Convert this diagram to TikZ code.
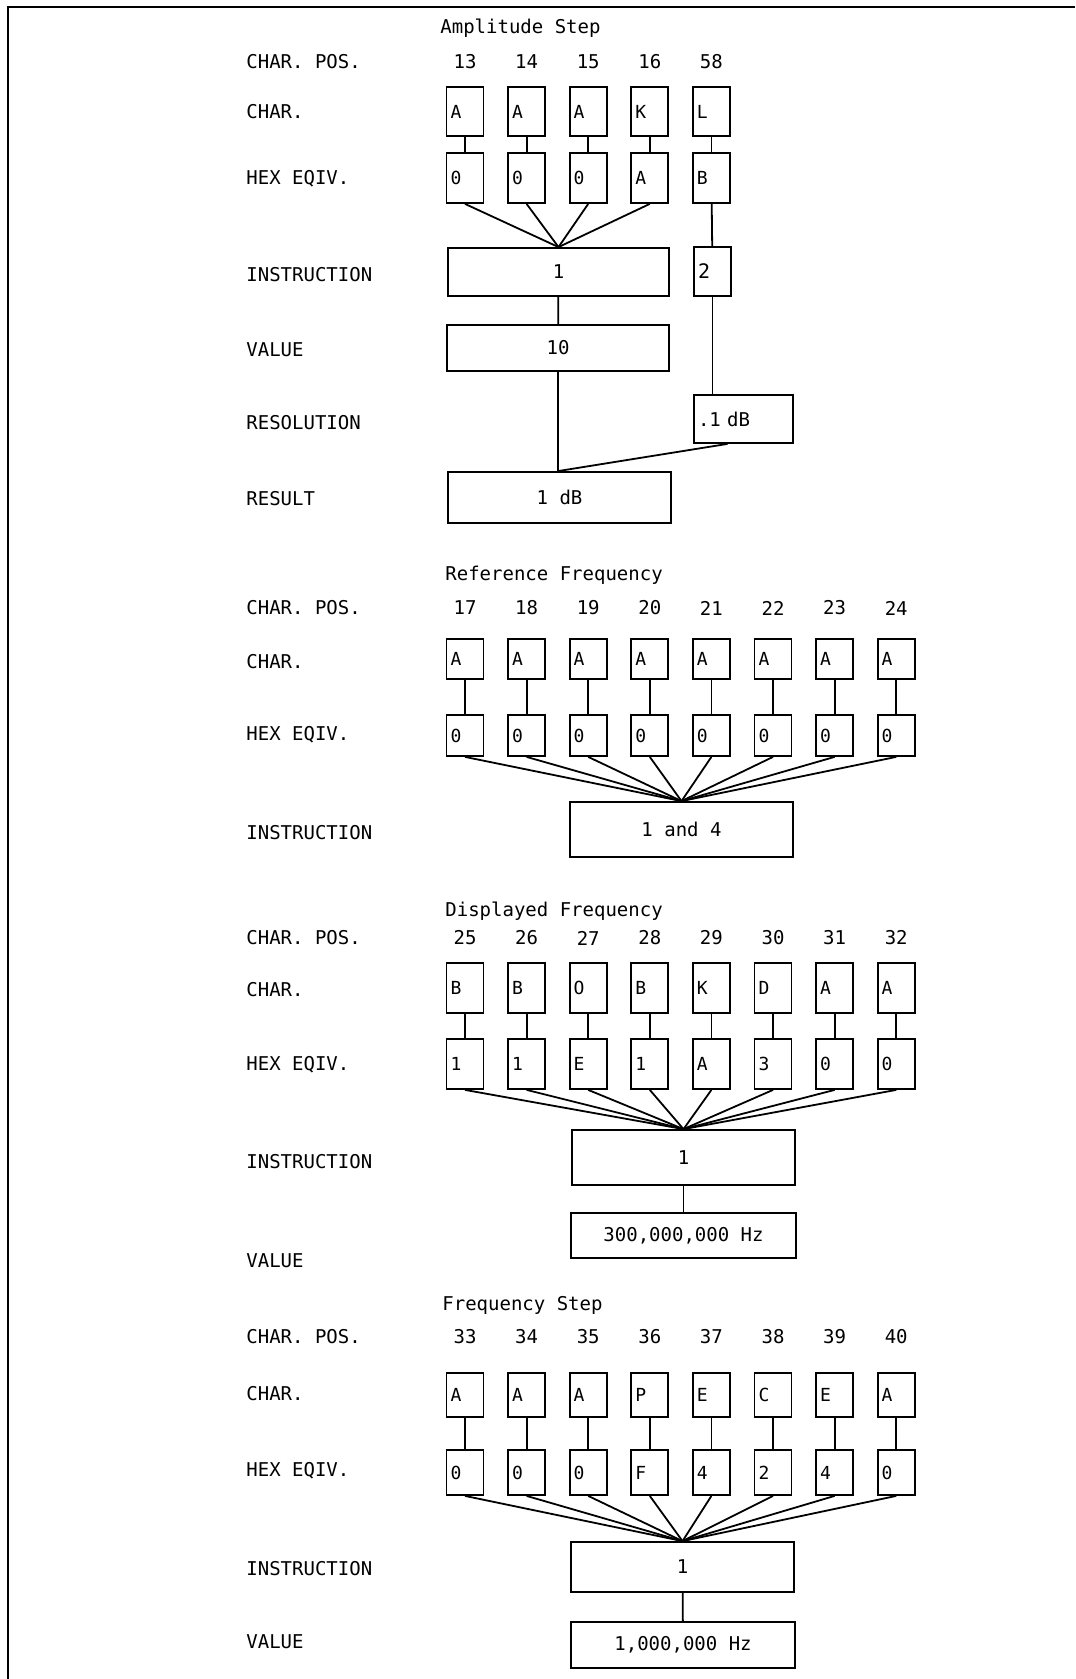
\documentclass[tikz,border=0pt]{standalone}
\usepackage{fontspec}
\setmainfont{DejaVu Sans Mono}
\tikzset{
  frame/.style={line width=1pt},
  lbl/.style={anchor=west, inner sep=0pt, font=\fontsize{9.5}{11}\selectfont},
  ttl/.style={anchor=west, inner sep=0pt, font=\fontsize{9.5}{11}\selectfont},
  num/.style={inner sep=0pt, font=\fontsize{9.5}{11}\selectfont},
  chr/.style={draw, line width=0.9pt, inner sep=2pt, text width=14.5pt, align=left,
              font=\fontsize{9}{10}\selectfont},
  wide/.style={draw, line width=0.9pt, inner sep=2pt, minimum width=111.5pt,
              align=center, font=\fontsize{9.5}{11}\selectfont},
  link/.style={line width=0.9pt},
}

\begin{document}
\begin{tikzpicture}[x=0.5pt,y=-0.5pt]
  \useasboundingbox (0,0) rectangle (1075,1679);
  \draw[frame] (8,1679) -- (8,7) -- (1075,7);
  % Amplitude Step
  \node[ttl] (ta) at (440,28) {Amplitude Step};
  \foreach \y/\txt [count=\n] in {62/CHAR. POS.,112/CHAR.,179/HEX EQIV.,275/INSTRUCTION,
                                  350/VALUE,423/RESOLUTION,499/RESULT}
    \node[lbl] (la\n) at (246,\y) {\txt};
  \foreach \p/\c/\h [count=\n] in {13/A/0,14/A/0,15/A/0,16/K/A,58/L/B}{
    \node[num] (pa\n) at ({465+61.6*(\n-1)},62) {\p};
    \node[chr,minimum height=24.5pt] (ca\n) at ({465+61.6*(\n-1)},111.5) {\c};
    \node[chr,minimum height=25pt] (ha\n) at ({465+61.6*(\n-1)},178) {\h};
    \draw[link] (ca\n) -- (ha\n);
  }
  \node[wide,minimum width=110.5pt,minimum height=24pt] (ia) at (558.5,272) {1};
  \foreach \n in {1,...,4}
    \draw[link] (ha\n.south) -- (ia.north);
  \node[chr,minimum height=24.5pt,font=\fontsize{10}{11}\selectfont] (ib) at (712.5,271.5) {2};
  \draw[link] (ha5) -- (ib);
  \node[wide,minimum width=111pt,minimum height=23pt] (va) at (558,348) {10};
  \draw[link] (ia) -- (va);
  \node[chr,text width=45.5pt,minimum height=24pt,font=\fontsize{9.5}{11}\selectfont] (ra) at (743.5,419) {.1 dB};
  \draw[link] (ib.south) -- (ib.south |- ra.north);
  \node[wide,minimum height=25.5pt] (ea) at (559.5,497.5) {1 dB};
  \draw[link] (va.south) -- (va.south |- ea.north);
  \draw[link] ([xshift=-8pt]ra.south) -- (va.south |- ea.north);
  % Reference Frequency
  \node[ttl] (tb) at (445,575) {Reference Frequency};
  \foreach \y/\txt [count=\n] in {608/CHAR. POS.,662/CHAR.,734.5/HEX EQIV.,833/INSTRUCTION}
    \node[lbl] (lb\n) at (246,\y) {\txt};
  \foreach \p/\c/\h [count=\n] in {17/A/0,18/A/0,19/A/0,20/A/0,21/A/0,22/A/0,23/A/0,24/A/0}{
    \node[num] (pb\n) at ({465+61.6*(\n-1)},608) {\p};
    \node[chr,minimum height=20pt] (cb\n) at ({465+61.6*(\n-1)},659) {\c};
    \node[chr,minimum height=20.5pt] (hb\n) at ({465+61.6*(\n-1)},735.5) {\h};
    \draw[link] (cb\n) -- (hb\n);
  }
  \node[wide,minimum height=27.5pt] (ic) at (681.5,829.5) {1 and 4};
  \foreach \n in {1,...,8}
    \draw[link] (hb\n.south) -- (ic.north);
  % Displayed Frequency
  \node[ttl] (tc) at (445,911) {Displayed Frequency};
  \foreach \y/\txt [count=\n] in {938/CHAR. POS.,990/CHAR.,1065/HEX EQIV.,1162/INSTRUCTION,1261/VALUE}
    \node[lbl] (lc\n) at (246,\y) {\txt};
  \foreach \p/\c/\h [count=\n] in {25/B/1,26/B/1,27/O/E,28/B/1,29/K/A,30/D/3,31/A/0,32/A/0}{
    \node[num] (pc\n) at ({465+61.6*(\n-1)},938) {\p};
    \node[chr,minimum height=25pt] (cc\n) at ({465+61.6*(\n-1)},988) {\c};
    \node[chr,minimum height=25pt] (hc\n) at ({465+61.6*(\n-1)},1064) {\h};
    \draw[link] (cc\n) -- (hc\n);
  }
  \node[wide,minimum height=27.5pt] (id) at (683.5,1157.5) {1};
  \foreach \n in {1,...,8}
    \draw[link] (hc\n.south) -- (id.north);
  \node[wide,minimum width=112.5pt,minimum height=22.5pt] (vd) at (683.5,1235.5) {300,000,000 Hz};
  \draw[link] (id) -- (vd);
  % Frequency Step
  \node[ttl] (td) at (442,1305) {Frequency Step};
  \foreach \y/\txt [count=\n] in {1337/CHAR. POS.,1394/CHAR.,1471/HEX EQIV.,1569/INSTRUCTION,1642/VALUE}
    \node[lbl] (ld\n) at (246,\y) {\txt};
  \foreach \p/\c/\h [count=\n] in {33/A/0,34/A/0,35/A/0,36/P/F,37/E/4,38/C/2,39/E/4,40/A/0}{
    \node[num] (pd\n) at ({465+61.6*(\n-1)},1337) {\p};
    \node[chr,minimum height=22pt] (cd\n) at ({465+61.6*(\n-1)},1395) {\c};
    \node[chr,minimum height=22.5pt] (hd\n) at ({465+61.6*(\n-1)},1472.5) {\h};
    \draw[link] (cd\n) -- (hd\n);
  }
  \node[wide,minimum height=25pt] (ie) at (682.5,1567) {1};
  \foreach \n in {1,...,8}
    \draw[link] (hd\n.south) -- (ie.north);
  \node[wide,minimum width=112pt,minimum height=23pt] (ve) at (683,1645) {1,000,000 Hz};
  \draw[link] (ie) -- (ve);
\end{tikzpicture}
\end{document}
